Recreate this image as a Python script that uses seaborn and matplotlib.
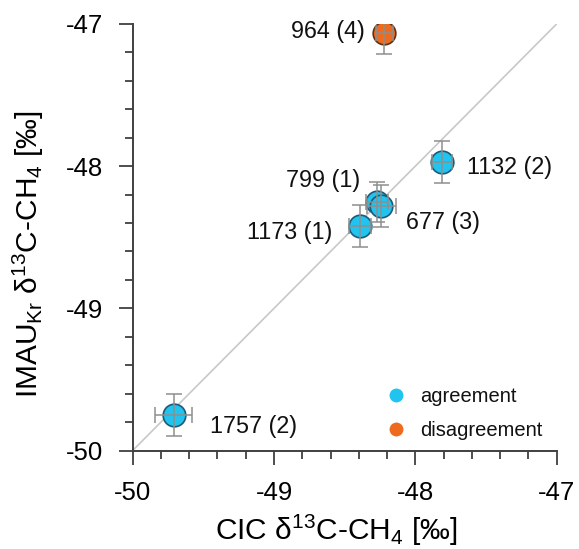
import numpy as np
import pandas as pd
import matplotlib
matplotlib.use("Agg")
import matplotlib.pyplot as plt
from matplotlib.lines import Line2D
from matplotlib.ticker import MultipleLocator
import seaborn as sns

###-------DATA------###

samples = ["964 (4)", "1132 (2)", "799 (1)", "677 (3)", "1173 (1)", "1757 (2)"]
cic_d13c = [-48.22, -47.81, -48.27, -48.24, -48.39, -49.71]
imau_d13c = [-47.06, -47.97, -48.25, -48.28, -48.42, -49.75]
cic_err = [0.06, 0.07, 0.08, 0.10, 0.08, 0.13]
imau_err = [0.15, 0.15, 0.14, 0.15, 0.15, 0.15]
status = ["disagreement", "agreement", "agreement", "agreement", "agreement", "agreement"]
major_ticks = [-50, -49, -48, -47]

# label offsets in points, and alignment
label_offsets = [(-14, 1), (18, -4), (-12, 15), (18, -12), (-20, -5), (26, -8)]
label_ha = ["right", "left", "right", "left", "right", "left"]

df = pd.DataFrame({"cic": cic_d13c, "imau": imau_d13c, "xerr": cic_err,
                   "yerr": imau_err, "status": status, "name": samples})

###-------STYLE------###
sns.set_theme(style="ticks")
plt.rcParams["font.family"] = ["Liberation Sans", "DejaVu Sans"]
plt.rcParams["mathtext.fontset"] = "custom"
plt.rcParams["mathtext.rm"] = "Liberation Sans"
plt.rcParams["mathtext.it"] = "Liberation Sans:italic"
plt.rcParams["mathtext.bf"] = "Liberation Sans:bold"
plt.rcParams["axes.unicode_minus"] = False

colors = {"agreement": "#20c4ee", "disagreement": "#ee6a1e"}
edges = {"agreement": "#1e5a78", "disagreement": "#5a3218"}

fig = plt.figure(figsize=(5.79, 5.49), dpi=100)
ax = fig.add_axes([0.2292, 0.1794, 0.7321, 0.7769])

# 1:1 line
lims = [major_ticks[0], major_ticks[-1]]
ax.plot(lims, lims, color="#c8c8c8", lw=1.2, zorder=1)

for st in ["agreement", "disagreement"]:
    sub = df[df["status"] == st]
    sns.scatterplot(data=sub, x="cic", y="imau", color=colors[st], s=265,
                    edgecolor=edges[st], linewidth=1.2, zorder=2, ax=ax, legend=False)

ax.errorbar(df["cic"], df["imau"], xerr=df["xerr"], yerr=df["yerr"], fmt="none",
            ecolor="#8e8e8e", elinewidth=1.1, capsize=6, capthick=1.1, zorder=3)

for i in range(len(df)):
    ax.annotate(df["name"][i], (df["cic"][i], df["imau"][i]), xytext=label_offsets[i],
                textcoords="offset points", ha=label_ha[i], va="center", fontsize=16.8,
                color="#111111")

ax.set_xlim(lims)
ax.set_ylim(lims)
ax.set_xticks(major_ticks)
ax.set_yticks(major_ticks)
ax.xaxis.set_minor_locator(MultipleLocator(0.2))
ax.yaxis.set_minor_locator(MultipleLocator(0.2))
ax.tick_params(which="major", direction="out", length=10, width=1.3, color="#404040",
               labelsize=18.5, pad=12, labelcolor="black")
ax.tick_params(axis="y", which="major", pad=11)
ax.tick_params(which="minor", direction="out", length=5.8, width=1.3, color="#404040")
sns.despine(ax=ax)
for sp in ["left", "bottom"]:
    ax.spines[sp].set_color("#404040")
    ax.spines[sp].set_linewidth(1.4)

ax.set_xlabel("CIC δ$^{13}$C-CH$_4$ [‰]", fontsize=21.5, color="black")
ax.set_ylabel("IMAU$_{\\mathrm{Kr}}$ δ$^{13}$C-CH$_4$ [‰]", fontsize=21.5, color="black")
ax.xaxis.set_label_coords(0.48, -0.146)
ax.yaxis.set_label_coords(-0.205, 0.46)

handles = [Line2D([], [], ls="none", marker="o", markersize=10, markerfacecolor=colors[k],
                  markeredgewidth=0, label=k) for k in ["agreement", "disagreement"]]
ax.legend(handles=handles, loc="center left", bbox_to_anchor=(0.598, 0.086), frameon=False,
          fontsize=14.5, handlelength=1.0, handletextpad=0.7, borderpad=0, borderaxespad=0,
          labelspacing=0.75, labelcolor="#111111")

fig.savefig("out.png", dpi=100)
